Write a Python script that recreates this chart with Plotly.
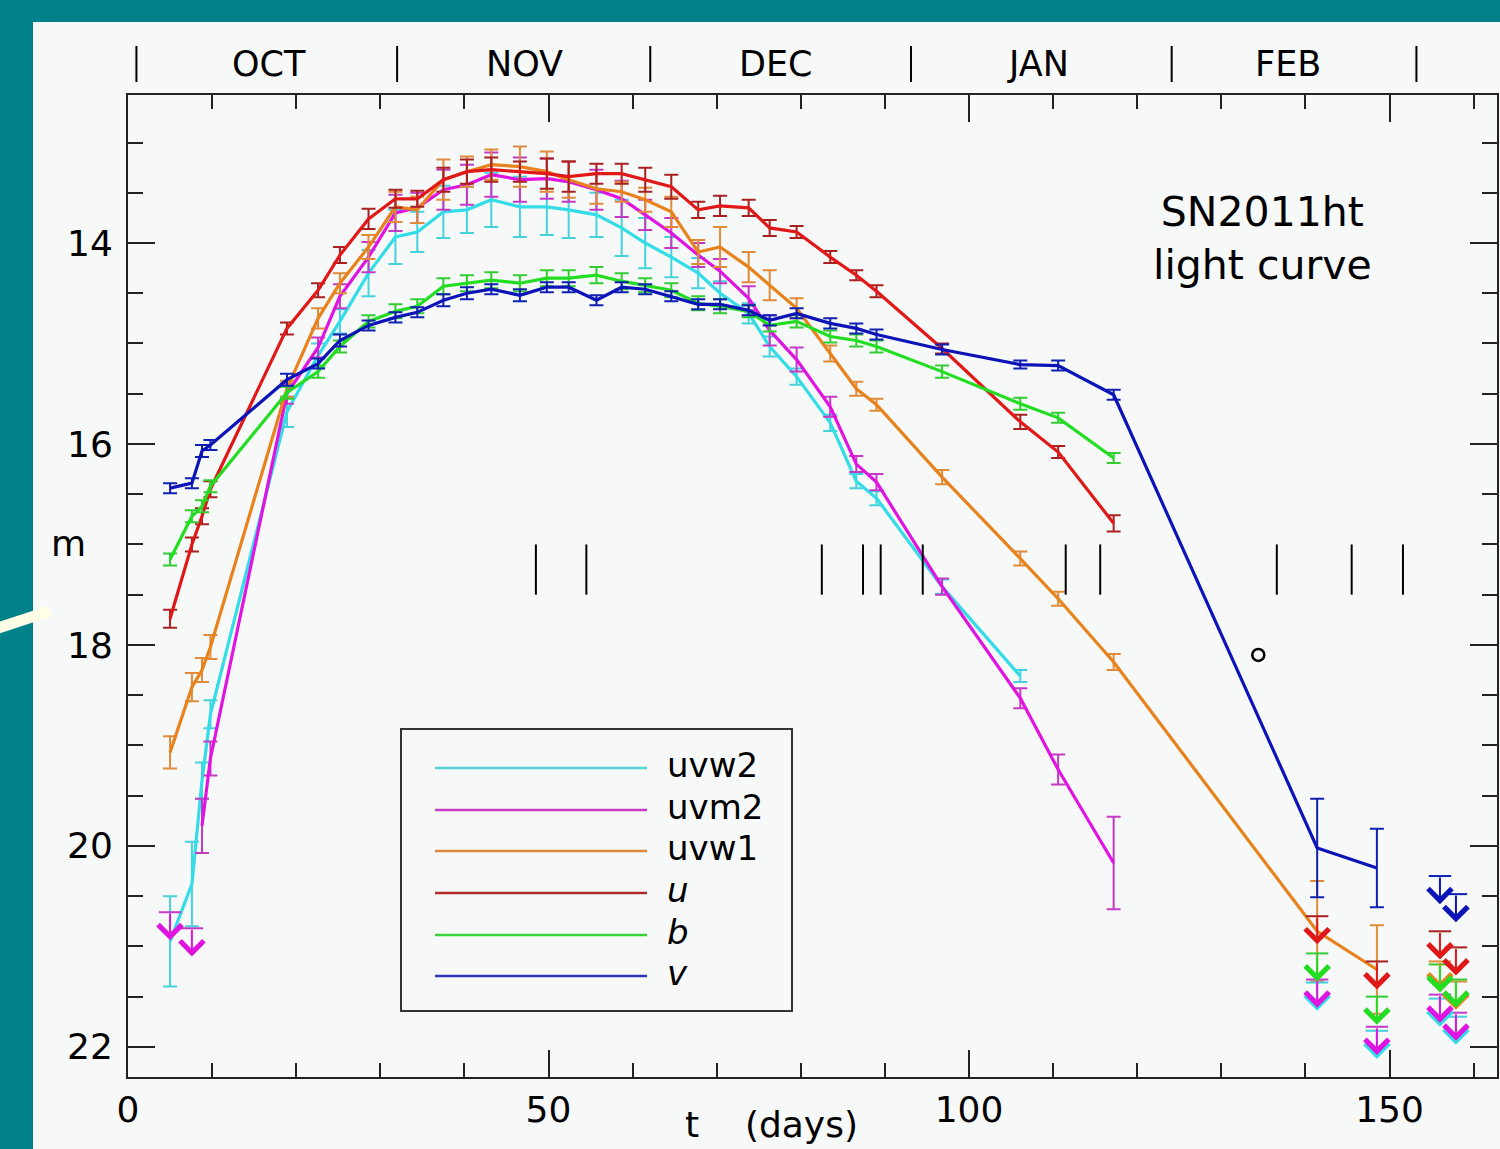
import plotly.graph_objects as go

# ---------------- data ----------------
t = [5.0, 7.6, 8.8, 9.8, 18.9, 22.6, 25.2, 28.6, 31.8, 34.4, 37.5, 40.3, 43.2, 46.6,
     49.8, 52.4, 55.7, 58.7, 61.5, 64.6, 67.8, 70.4, 73.8, 76.3, 79.5, 83.5, 86.6,
     89.0, 96.8, 106.1, 110.6, 117.2, 141.4, 148.5]

uvw2 = [20.95, 20.38, 19.35, 18.69, 15.68, 15.12, 14.78, 14.30, 13.94, 13.89, 13.69, 13.67,
        13.57, 13.64, 13.64, 13.67, 13.72, 13.85, 14.00, 14.14, 14.30, 14.50, 14.70, 15.03,
        15.33, 15.79, 16.37, 16.54, 17.42, 18.31, None, None, None, None]
uvw2_err = [0.45, 0.42, 0.18, 0.14, 0.15, 0.12, 0.12, 0.23, 0.27, 0.20, 0.26, 0.23, 0.27, 0.30,
            0.28, 0.28, 0.22, 0.28, 0.25, 0.20, 0.15, 0.12, 0.10, 0.10, 0.08, 0.08, 0.07, 0.07,
            0.07, 0.06, 0, 0, 0, 0]

uvm2 = [None, None, 19.80, 19.13, 15.50, 15.04, 14.53, 14.14, 13.70, 13.65, 13.47, 13.42,
        13.32, 13.37, 13.36, 13.39, 13.47, 13.56, 13.72, 13.90, 14.12, 14.28, 14.55, 14.87,
        15.16, 15.63, 16.20, 16.38, 17.42, 18.53, 19.24, 20.17, None, None]
uvm2_err = [0, 0, 0.27, 0.17, 0.10, 0.10, 0.12, 0.15, 0.18, 0.15, 0.20, 0.20, 0.22, 0.22,
            0.20, 0.20, 0.20, 0.18, 0.15, 0.15, 0.12, 0.12, 0.12, 0.15, 0.12, 0.10, 0.08,
            0.08, 0.08, 0.10, 0.15, 0.46, 0, 0]

uvw1 = [19.07, 18.42, 18.25, 18.02, 15.45, 14.75, 14.40, 14.04, 13.64, 13.67, 13.37, 13.29,
        13.22, 13.24, 13.29, 13.37, 13.46, 13.49, 13.57, 13.69, 14.09, 14.04, 14.24, 14.42,
        14.65, 15.10, 15.45, 15.61, 16.33, 17.14, 17.54, 18.17, 20.85, 21.23]
uvw1_err = [0.16, 0.14, 0.12, 0.12, 0.08, 0.10, 0.10, 0.12, 0.15, 0.13, 0.20, 0.15, 0.15, 0.20,
            0.20, 0.18, 0.15, 0.10, 0.12, 0.15, 0.12, 0.20, 0.15, 0.15, 0.10, 0.08, 0.07, 0.06,
            0.07, 0.07, 0.07, 0.08, 0.50, 0.44]

u = [17.74, 17.00, 16.72, 16.45, 14.85, 14.47, 14.12, 13.76, 13.56, 13.56, 13.37, 13.29,
     13.27, 13.29, 13.31, 13.34, 13.31, 13.31, 13.37, 13.44, 13.67, 13.63, 13.65, 13.85,
     13.89, 14.14, 14.32, 14.48, 15.05, 15.78, 16.08, 16.79, None, None]
u_err = [0.09, 0.07, 0.08, 0.08, 0.06, 0.07, 0.08, 0.10, 0.09, 0.08, 0.12, 0.12, 0.12, 0.10,
         0.15, 0.15, 0.10, 0.10, 0.12, 0.12, 0.08, 0.10, 0.08, 0.08, 0.06, 0.06, 0.05, 0.06,
         0.05, 0.07, 0.06, 0.08, 0, 0]

b = [17.15, 16.72, 16.62, 16.42, 15.49, 15.28, 15.03, 14.78, 14.68, 14.63, 14.43, 14.40,
     14.37, 14.40, 14.35, 14.35, 14.32, 14.38, 14.42, 14.47, 14.60, 14.63, 14.68, 14.82,
     14.78, 14.93, 14.97, 15.03, 15.28, 15.60, 15.74, 16.14, None, None]
b_err = [0.06, 0.06, 0.06, 0.06, 0.06, 0.06, 0.06, 0.06, 0.07, 0.07, 0.08, 0.08, 0.08, 0.08,
         0.08, 0.08, 0.08, 0.08, 0.07, 0.07, 0.07, 0.07, 0.06, 0.06, 0.06, 0.06, 0.06, 0.06,
         0.06, 0.06, 0.05, 0.05, 0, 0]

v = [16.44, 16.39, 16.07, 16.01, 15.36, 15.20, 14.97, 14.82, 14.74, 14.69, 14.57, 14.50,
     14.46, 14.52, 14.44, 14.44, 14.57, 14.44, 14.46, 14.53, 14.61, 14.61, 14.67, 14.77,
     14.70, 14.80, 14.85, 14.91, 15.06, 15.21, 15.22, 15.51, 20.02, 20.22]
v_err = [0.05, 0.05, 0.06, 0.05, 0.06, 0.05, 0.06, 0.05, 0.05, 0.05, 0.06, 0.06, 0.05, 0.06,
         0.05, 0.05, 0.05, 0.05, 0.05, 0.05, 0.05, 0.05, 0.05, 0.05, 0.05, 0.05, 0.05, 0.05,
         0.05, 0.04, 0.05, 0.05, 0.49, 0.39]

# upper limits (magnitude of the limit)
ul_t = [5.0, 7.6, 141.4, 148.5, 156.0, 157.9]
ul_uvw2 = [None, None, 21.36, 21.84, 21.52, 21.70]
ul_uvm2 = [20.66, 20.82, 21.33, 21.80, 21.48, 21.66]
ul_uvw1 = [None, None, None, None, 21.15, 21.35]
ul_u = [None, None, 20.70, 21.15, 20.85, 21.01]
ul_b = [None, None, 21.07, 21.50, 21.18, 21.33]
ul_v = [None, None, None, None, 20.30, 20.48]

# spectroscopic epochs (vertical marks)
spec_t = [48.5, 54.5, 82.5, 87.4, 89.5, 94.5, 111.5, 115.6, 136.6, 145.5, 151.6]
spec_m = [17.0, 17.5]

# isolated open circle
circ_t = [134.4]
circ_m = [18.1]

# month calendar strip
month_edges = [1.0, 32.0, 62.1, 93.1, 124.1, 153.2]
month_names = ["OCT", "NOV", "DEC", "JAN", "FEB"]
month_centers = [16.8, 47.1, 77.1, 108.2, 137.9]

legend_labels = ["uvw2", "uvm2", "uvw1", "<i>u</i>", "<i>b</i>", "<i>v</i>"]

bands = [
    ("uvw2", uvw2, uvw2_err, ul_uvw2, "#33dce6", "#45d2da", "#55d4d8"),
    ("uvm2", uvm2, uvm2_err, ul_uvm2, "#e014e0", "#c43ac4", "#c83cc8"),
    ("uvw1", uvw1, uvw1_err, ul_uvw1, "#e8821c", "#e08a3a", "#e0883a"),
    ("u", u, u_err, ul_u, "#e01818", "#a82020", "#b02a2a"),
    ("b", b, b_err, ul_b, "#22dd22", "#33cc33", "#3cd43c"),
    ("v", v, v_err, ul_v, "#0c14b8", "#1020b0", "#2a34b4"),
]

ARROW = 0.28
FONT = "DejaVu Sans"
PANEL = "#f7f9f9"
TEAL = "#01818a"

fig = go.Figure()
annotations = []

for (key, vals, errs, uls, col, ecol, lcol), lab in zip(bands, legend_labels):
    fig.add_trace(go.Scatter(
        x=t, y=vals, mode="lines", name=lab, showlegend=False,
        line=dict(color=col, width=3.2),
        connectgaps=True,
        error_y=dict(type="data", array=errs, visible=True, color=ecol,
                     thickness=2, width=7),
    ))

for key, vals, errs, uls, col, ecol, lcol in bands:
    xs = [tt for tt, m in zip(ul_t, uls) if m is not None]
    ys = [m for m in uls if m is not None]
    fig.add_trace(go.Scatter(
        x=xs, y=ys, mode="markers", showlegend=False, name=key + " limit",
        marker=dict(symbol="line-ew", size=16, line=dict(color=ecol, width=2)),
    ))
    for xx, yy in zip(xs, ys):
        annotations.append(dict(
            x=xx, y=yy + ARROW, ax=xx, ay=yy, xref="x", yref="y", axref="x", ayref="y",
            text="", showarrow=True, arrowhead=4, arrowsize=2.3, arrowwidth=2,
            arrowcolor=col, standoff=0, startstandoff=0,
        ))

# spectroscopic epoch marks
sx, sy = [], []
for st in spec_t:
    sx += [st, st, None]
    sy += [spec_m[0], spec_m[1], None]
fig.add_trace(go.Scatter(x=sx, y=sy, mode="lines", showlegend=False,
                         line=dict(color="black", width=2)))

fig.add_trace(go.Scatter(x=circ_t, y=circ_m, mode="markers", showlegend=False,
                         marker=dict(symbol="circle-open", size=12,
                                     line=dict(color="black", width=2.5), color="black")))

# pixel helpers for decoration outside the axes
L, R, T, B = 128, 1497, 95, 1077
W, H = 1500, 1149
def px(xp):
    return (xp - L) / (R - L)
def py(yp):
    return (B - yp) / (B - T)

shapes = [
    dict(type="rect", xref="paper", yref="paper", x0=px(33), x1=px(1502), y0=py(1152), y1=py(22),
         fillcolor=PANEL, line=dict(width=0), layer="below"),
    dict(type="line", xref="paper", yref="paper", x0=px(-2), y0=py(628), x1=px(50), y1=py(611),
         line=dict(color="#fffde6", width=11)),
]
for me in month_edges:
    shapes.append(dict(type="line", xref="x", yref="paper", x0=me, x1=me,
                       y0=py(82), y1=py(46), line=dict(color="black", width=2)))
for mc, mn in zip(month_centers, month_names):
    annotations.append(dict(x=mc, y=py(64), xref="x", yref="paper", text=mn, showarrow=False,
                            font=dict(family=FONT, size=35, color="black"),
                            xanchor="center", yanchor="middle"))

# legend box (drawn by hand to match the reference layout)
shapes.append(dict(type="rect", xref="paper", yref="paper", x0=px(401), x1=px(792),
                   y0=py(1011), y1=py(729), fillcolor=PANEL,
                   line=dict(color="#333333", width=2), layer="above"))
row_y = [768, 810, 851, 893, 935, 976]
for (key, vals, errs, uls, col, ecol, lcol), lab, ry in zip(bands, legend_labels, row_y):
    shapes.append(dict(type="line", xref="paper", yref="paper", x0=px(435), x1=px(647),
                       y0=py(ry), y1=py(ry), line=dict(color=lcol, width=2.5), layer="above"))
    annotations.append(dict(x=px(665), y=py(ry - 3), xref="paper", yref="paper", text=lab,
                            showarrow=False, xanchor="left", yanchor="middle",
                            font=dict(family=FONT, size=34, color="black")))

annotations += [
    dict(x=px(68), y=py(543), xref="paper", yref="paper", text="m", showarrow=False,
         font=dict(family=FONT, size=36, color="black"), xanchor="center", yanchor="middle"),
    dict(x=px(771), y=py(1124), xref="paper", yref="paper", text="t&nbsp;&nbsp;&nbsp;&nbsp;(days)",
         showarrow=False, font=dict(family=FONT, size=36, color="black"),
         xanchor="center", yanchor="middle"),
    dict(x=px(1262), y=py(238), xref="paper", yref="paper", text="SN2011ht<br>light curve",
         showarrow=False, font=dict(family=FONT, size=41, color="black"),
         xanchor="center", yanchor="middle", align="center"),
]

axis_common = dict(
    showgrid=False, zeroline=False, showline=True, linecolor="#222222", linewidth=2,
    mirror="ticks", ticks="inside", ticklen=27, tickwidth=2, tickcolor="#222222",
    tickfont=dict(family=FONT, size=36, color="black"),
)

fig.update_layout(
    width=W, height=H,
    margin=dict(l=L, r=W - R, t=T, b=H - B, autoexpand=False),
    paper_bgcolor=TEAL, plot_bgcolor=PANEL,
    font=dict(family=FONT, color="black"),
    xaxis=dict(range=[0, (R - L) / 8.41], tickmode="linear", tick0=0, dtick=50,
               ticklabelstandoff=0,
               minor=dict(ticks="inside", ticklen=14, tickwidth=2, dtick=10, tickcolor="#222222"),
               **axis_common),
    yaxis=dict(range=[22.3, 12.527], tickmode="array", tickvals=[14, 16, 18, 20, 22],
               ticklabelstandoff=6,
               minor=dict(ticks="inside", ticklen=15, tickwidth=2, dtick=0.5, tickcolor="#222222"),
               **axis_common),
    shapes=shapes,
    annotations=annotations,
    showlegend=False,
)

fig.write_html(
    "out.html",
    config={"displayModeBar": False},
    post_script="document.body.style.margin='0';document.body.style.overflow='hidden';",
)
